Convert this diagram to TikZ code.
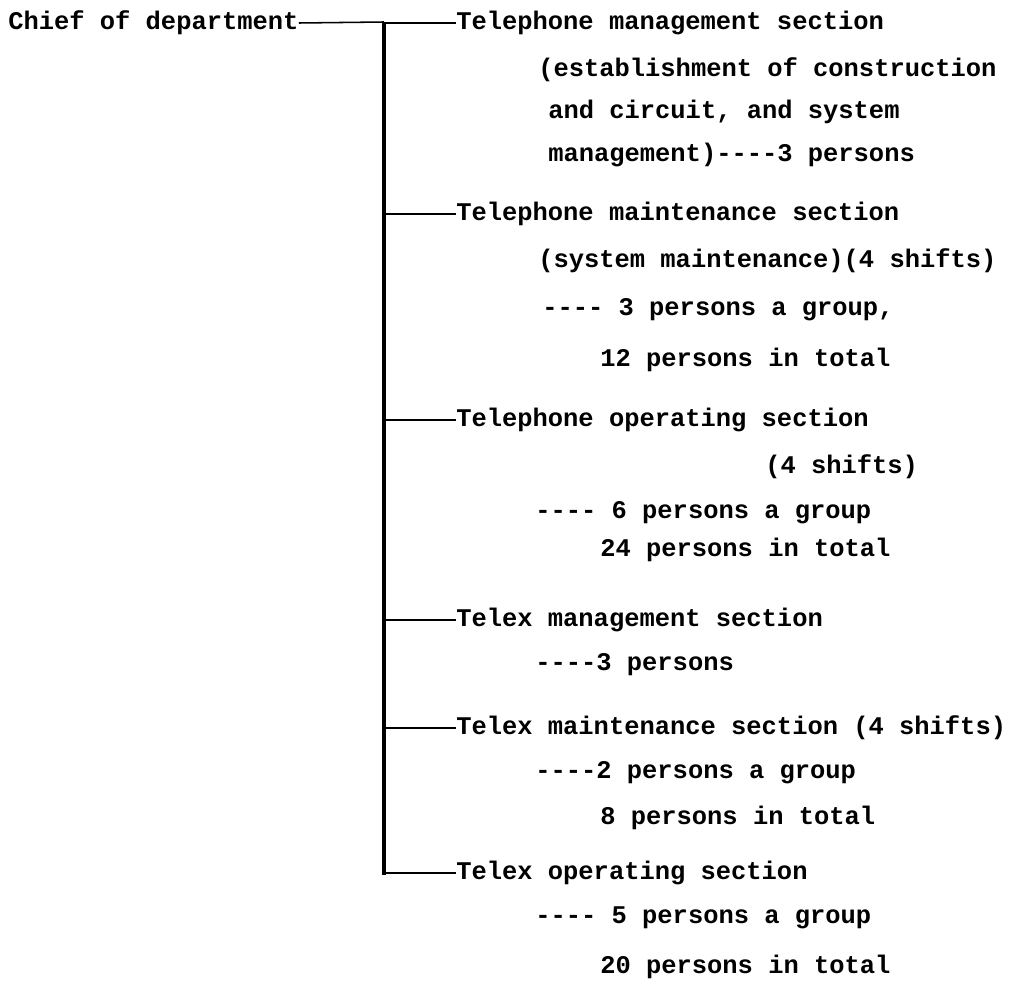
\documentclass[tikz,border=0pt]{standalone}
\usepackage{fontspec}
\setmonofont{Liberation Mono}
\usetikzlibrary{positioning}

\begin{document}
\begin{tikzpicture}[x=0.025cm,y=-0.025cm,
  every node/.style={font=\ttfamily\bfseries\fontsize{18.1}{20}\selectfont, inner sep=0pt, anchor=west},
  bar/.style={line width=2.5pt},
  branch/.style={line width=1.1pt}]
\useasboundingbox (0,0) rectangle (1016,985);
\node (chief) at (8,23) {Chief of department};
\coordinate (bartop) at (384,22); \coordinate (barbot) at (384,875);
% sections
\node (s1) at (456,23) {Telephone management section};
\node (s1a) at (538,70) {(establishment of construction};
\node (s1b) at (548,112) {and circuit, and system};
\node (s1c) at (548,155) {management)----3 persons};
\node (s2) at (456,214) {Telephone maintenance section};
\node (s2a) at (538,261) {(system maintenance)(4 shifts)};
\node (s2b) at (542,310) {---- 3 persons a group,};
\node (s2c) at (600,360) {12 persons in total};
\node (s3) at (456,420) {Telephone operating section};
\node (s3a) at (765,467) {(4 shifts)};
\node (s3b) at (535,513) {---- 6 persons a group};
\node (s3c) at (600,550) {24 persons in total};
\node (s4) at (456,620) {Telex management section};
\node (s4a) at (535,665) {----3 persons};
\node (s5) at (456,728) {Telex maintenance section (4 shifts)};
\node (s5a) at (535,773) {----2 persons a group};
\node (s5b) at (600,818) {8 persons in total};
\node (s6) at (456,873) {Telex operating section};
\node (s6a) at (535,918) {---- 5 persons a group};
\node (s6b) at (600,967) {20 persons in total};
% connectors
\draw[bar] (bartop) -- (barbot);
\draw[branch] (chief.east) -- (bartop);
\foreach \s in {s1,s2,s3,s4,s5,s6}
  \draw[branch] (bartop |- \s.west) -- (\s.west);
\end{tikzpicture}
\end{document}
